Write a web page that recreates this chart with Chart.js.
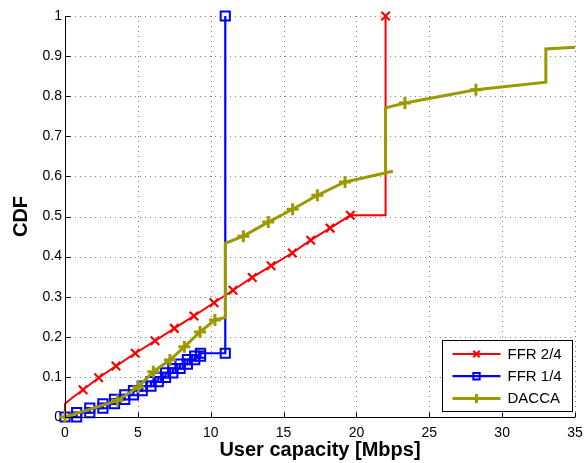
<!DOCTYPE html>
<html>
<head>
<meta charset="utf-8">
<script src="https://cdn.jsdelivr.net/npm/chart.js@4/dist/chart.umd.min.js"></script>
<style>
  html, body { margin: 0; padding: 0; background: #fff; }
  #wrap { width: 585px; height: 463px; }
</style>
</head>
<body>
<div id="wrap"><canvas id="cdf" width="585" height="463"></canvas></div>
<script>
// ---- data -------------------------------------------------------------
const seriesNames = ['FFR 2/4', 'FFR 1/4', 'DACCA'];

// FFR 2/4 : capacity (Mbps) and CDF, plus which points carry a marker
const ffr24X = [0, 0, 0.5, 1.24, 2.31, 3.5, 4.82, 6.18, 7.5, 8.85, 10.23, 11.53, 12.85, 14.14, 15.6, 16.86, 18.19, 19.58, 22, 22];
const ffr24Y = [0, 0.033, 0.048, 0.068, 0.098, 0.127, 0.159, 0.19, 0.221, 0.252, 0.285, 0.316, 0.348, 0.377, 0.409, 0.441, 0.471, 0.503, 0.503, 1];
const ffr24Marks = [3, 4, 5, 6, 7, 8, 9, 10, 11, 12, 13, 14, 15, 16, 17, 19];

// FFR 1/4 : empirical CDF steps (position of each step and level after it)
const ffr14StepX = [0.8, 1.7, 2.6, 3.4, 4.1, 4.7, 5.3, 5.9, 6.4, 6.9, 7.4, 7.9, 8.4, 8.9, 9.3];
const ffr14StepY = [0.011, 0.022, 0.033, 0.044, 0.055, 0.066, 0.077, 0.088, 0.099, 0.110, 0.121, 0.132, 0.143, 0.152, 0.159];
const ffr14Last = [11, 1];

// DACCA
const daccaX = [0, 3.59, 5.03, 6.06, 7.2, 8.19, 9.27, 10.29, 11, 11, 12.24, 13.95, 15.62, 17.32, 19.22, 22.5, 22, 22, 23.33, 28.2, 33, 33, 35];
const daccaY = [0, 0.041, 0.075, 0.113, 0.142, 0.175, 0.212, 0.242, 0.248, 0.433, 0.451, 0.486, 0.518, 0.553, 0.586, 0.613, 0.609, 0.771, 0.783, 0.816, 0.835, 0.918, 0.922];
const daccaMarks = [0, 1, 2, 3, 4, 5, 6, 7, 10, 11, 12, 13, 14, 18, 19];

// ---- build point tables -------------------------------------------------
const zip = (xs, ys) => xs.map((x, i) => ({ x, y: ys[i] }));

const ffr24Pts = zip(ffr24X, ffr24Y);
const daccaPts = zip(daccaX, daccaY);

// staircase: horizontal run to the step, then up to the new level
const ffr14Pts = [{ x: 0, y: 0 }];
ffr14StepX.forEach((x, i) => {
  const prev = i === 0 ? 0 : ffr14StepY[i - 1];
  ffr14Pts.push({ x, y: prev });
  ffr14Pts.push({ x, y: ffr14StepY[i] });
});
ffr14Pts.push({ x: ffr14Last[0], y: ffr14StepY[ffr14StepY.length - 1] });
ffr14Pts.push({ x: ffr14Last[0], y: ffr14Last[1] });

const RED = '#ff0000', BLUE = '#0000ff', OLIVE = '#9a9a00';
const FONT = "'Liberation Sans', Arial, Helvetica, sans-serif";

const marked = (list, r) => ctx => (list.includes(ctx.dataIndex) ? r : 0);

const datasets = [
  {
    label: seriesNames[0], data: ffr24Pts, order: 3, clip: false,
    borderColor: RED, backgroundColor: 'rgba(0,0,0,0)', borderWidth: 2,
    pointStyle: 'crossRot', pointRadius: marked(ffr24Marks, 6), pointBorderWidth: 2.2,
    pointBorderColor: RED, pointBackgroundColor: 'rgba(0,0,0,0)'
  },
  {
    label: seriesNames[1], data: ffr14Pts, order: 2, clip: false,
    borderColor: BLUE, backgroundColor: 'rgba(0,0,0,0)', borderWidth: 2.2,
    pointStyle: 'rect', pointRadius: 6.5, pointBorderWidth: 2,
    pointBorderColor: BLUE, pointBackgroundColor: 'rgba(0,0,0,0)'
  },
  {
    label: seriesNames[2], data: daccaPts, order: 1, clip: false,
    borderColor: OLIVE, backgroundColor: 'rgba(0,0,0,0)', borderWidth: 3,
    pointStyle: 'cross', pointRadius: marked(daccaMarks, 6), pointBorderWidth: 3,
    pointBorderColor: OLIVE, pointBackgroundColor: 'rgba(0,0,0,0)'
  }
];

// dotted grid at every tick (except the axes themselves)
const dottedGrid = {
  id: 'dottedGrid',
  beforeDatasetsDraw(chart) {
    const { ctx, chartArea: a, scales: { x, y } } = chart;
    ctx.save();
    ctx.strokeStyle = 'rgba(0,0,0,0.5)';
    ctx.lineWidth = 1;
    ctx.setLineDash([1, 4]);
    ctx.beginPath();
    x.ticks.forEach(t => {
      if (t.value === x.min) return;
      const px = Math.round(x.getPixelForValue(t.value)) + 0.5;
      ctx.moveTo(px, a.bottom); ctx.lineTo(px, a.top);
    });
    y.ticks.forEach(t => {
      if (t.value === y.min) return;
      const py = Math.round(y.getPixelForValue(t.value)) + 0.5;
      ctx.moveTo(a.left, py); ctx.lineTo(a.right, py);
    });
    ctx.stroke();
    ctx.restore();
  }
};

// solid left/bottom axis lines with inward tick marks
const axesFrame = {
  id: 'axesFrame',
  afterDatasetsDraw(chart) {
    const { ctx, chartArea: a, scales: { x, y } } = chart;
    const L = Math.round(a.left) + 0.5, B = Math.round(a.bottom) + 0.5;
    ctx.save();
    ctx.strokeStyle = '#000';
    ctx.lineWidth = 1;
    ctx.beginPath();
    ctx.moveTo(L, a.top); ctx.lineTo(L, B); ctx.lineTo(a.right, B);
    x.ticks.forEach(t => {
      const px = Math.round(x.getPixelForValue(t.value)) + 0.5;
      ctx.moveTo(px, B); ctx.lineTo(px, B - 5);
    });
    y.ticks.forEach(t => {
      const py = Math.round(y.getPixelForValue(t.value)) + 0.5;
      ctx.moveTo(L, py); ctx.lineTo(L + 5, py);
    });
    ctx.stroke();
    ctx.restore();
  }
};

// boxed legend in the lower right corner, line with marker in the middle
const boxLegend = {
  id: 'boxLegend',
  afterDraw(chart) {
    const { ctx, chartArea: a } = chart;
    const w = 130, h = 71;
    const bx = Math.round(a.right - w - 3) + 0.5, by = Math.round(a.bottom - h - 6) + 0.5;
    ctx.save();
    ctx.fillStyle = '#fff';
    ctx.fillRect(bx, by, w, h);
    ctx.strokeStyle = '#000';
    ctx.lineWidth = 1;
    ctx.strokeRect(bx, by, w, h);
    chart.data.datasets.forEach((ds, i) => {
      const cy = by + 13.5 + i * 22.2;
      const x0 = bx + 10, x1 = bx + 58, xm = (x0 + x1) / 2;
      ctx.strokeStyle = ds.borderColor;
      ctx.lineWidth = ds.borderWidth;
      ctx.beginPath(); ctx.moveTo(x0, cy); ctx.lineTo(x1, cy); ctx.stroke();
      ctx.fillStyle = 'rgba(0,0,0,0)';
      ctx.lineWidth = ds.pointBorderWidth;
      Chart.helpers.drawPoint(ctx, {
        pointStyle: ds.pointStyle, rotation: 0, radius: 4.5, borderWidth: ds.pointBorderWidth
      }, xm, cy);
      ctx.fillStyle = '#000';
      ctx.font = '15px ' + FONT;
      ctx.textBaseline = 'middle';
      ctx.textAlign = 'left';
      ctx.fillText(ds.label, x1 + 7, cy + 0.5);
    });
    ctx.restore();
  }
};

const noGrid = { display: false, drawTicks: false };
const noBorder = { display: false };

new Chart(document.getElementById('cdf'), {
  type: 'line',
  data: { datasets },
  options: {
    responsive: false,
    animation: false,
    devicePixelRatio: 1,
    layout: { padding: { top: 16, right: 10, left: 0, bottom: 0 } },
    plugins: { legend: { display: false }, tooltip: { enabled: false } },
    elements: { line: { tension: 0 } },
    scales: {
      x: {
        type: 'linear', min: 0, max: 35,
        afterFit(s) { s.height = 46; s.paddingLeft = 0; s.paddingRight = 0; },
        ticks: { stepSize: 5, padding: 8, color: '#000', font: { family: FONT, size: 14 }, maxRotation: 0 },
        grid: noGrid,
        border: noBorder,
        title: { display: true, text: 'User capacity [Mbps]', color: '#000',
                 font: { family: FONT, size: 20, weight: 'bold' }, padding: { top: 0, bottom: 1 } }
      },
      y: {
        type: 'linear', min: 0, max: 1,
        afterFit(s) { s.width = 65; s.paddingTop = 0; s.paddingBottom = 0; },
        ticks: { stepSize: 0.1, padding: 3, color: '#000', font: { family: FONT, size: 14 },
                 callback: v => String(Math.round(v * 10) / 10) },
        grid: noGrid,
        border: noBorder,
        title: { display: true, text: 'CDF', color: '#000',
                 font: { family: FONT, size: 20, weight: 'bold' }, padding: { top: 9, bottom: 0 } }
      }
    }
  },
  plugins: [dottedGrid, axesFrame, boxLegend]
});
</script>
</body>
</html>
